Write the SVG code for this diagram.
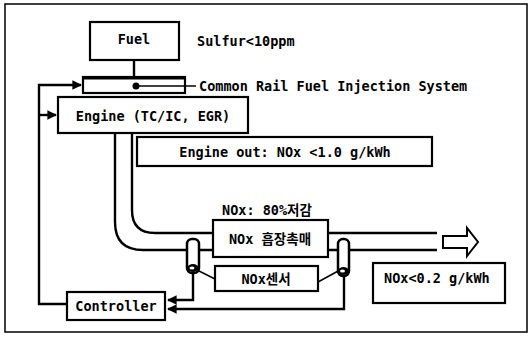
<svg xmlns="http://www.w3.org/2000/svg" width="530" height="340" viewBox="0 0 530 340">
<defs>
<style>
.box{fill:#fff;stroke:#000;stroke-width:2.2}
.ln{fill:none;stroke:#000;stroke-width:2.4}
.thin{fill:none;stroke:#000;stroke-width:1.5}
text{font-family:"DejaVu Sans Mono","Noto Sans CJK KR",monospace;font-size:13.5px;fill:#000;font-weight:bold}
.c{text-anchor:middle}
</style>
<marker id="ah" viewBox="0 0 10 10" refX="9" refY="5" markerWidth="4" markerHeight="4" orient="auto" markerUnits="strokeWidth">
<path d="M0,0 L10,5 L0,10 z" fill="#000"/>
</marker>
</defs>
<rect width="530" height="340" fill="#fff"/>
<rect x="5" y="4" width="522" height="328" fill="none" stroke="#000" stroke-width="1.5"/>

<g id="connectors">
<line class="ln" x1="134" y1="60" x2="134" y2="77"/>
<polyline class="ln" points="67,304 39,304 39,85 81,85" marker-end="url(#ah)"/>
<line class="ln" x1="39" y1="115" x2="56" y2="115" marker-end="url(#ah)"/>
<path class="ln" d="M132,133 V210 Q132,233 155,233 H213"/>
<path class="ln" d="M115,133 V222 Q115,250 143,250 H213"/>
<line class="ln" x1="328" y1="233" x2="437" y2="233"/>
<line class="ln" x1="328" y1="250" x2="437" y2="250"/>
<polyline class="ln" points="193,273 193,300 168,300" marker-end="url(#ah)"/>
<polyline class="ln" points="344,276 344,309 168,309" marker-end="url(#ah)"/>
<line class="thin" x1="197" y1="270" x2="215" y2="279"/>
<line class="thin" x1="340" y1="270" x2="318" y2="282"/>
<path d="M443,236 H467 V228 L478,242 L467,256 V248 H443 Z" fill="#fff" stroke="#000" stroke-width="2"/>
</g>

<g id="fuel">
<rect class="box" x="90" y="22" width="89" height="38"/>
<text class="c" x="134" y="44">Fuel</text>
</g>
<text x="197" y="46">Sulfur&lt;10ppm</text>

<g id="rail">
<rect class="box" x="83" y="77" width="102" height="16"/>
<line x1="83" y1="78" x2="185" y2="78" stroke="#000" stroke-width="3"/>
<line class="thin" x1="136" y1="86" x2="196" y2="86"/>
<circle cx="136" cy="86" r="3.5" fill="#000"/>
<text x="199" y="91">Common Rail Fuel Injection System</text>
</g>

<g id="engine">
<rect class="box" x="58" y="97" width="190" height="36"/>
<text class="c" x="153" y="121">Engine (TC/IC, EGR)</text>
</g>

<g id="engine-out">
<rect class="box" x="137" y="137" width="295" height="29"/>
<text class="c" x="285" y="157">Engine out: NOx &lt;1.0 g/kWh</text>
</g>

<text x="222" y="215">NOx: 80%저감</text>

<g id="catalyst">
<rect class="box" x="213" y="220" width="115" height="37"/>
<text class="c" x="270" y="244">NOx 흡장촉매</text>
</g>

<g id="sensor1">
<rect x="187" y="239" width="12" height="34" rx="5" fill="#fff" stroke="#000" stroke-width="2.5"/>
<ellipse cx="193" cy="268" rx="5.5" ry="4" fill="#000"/>
<ellipse cx="192" cy="268" rx="2.5" ry="1.6" fill="#fff"/>
</g>
<g id="sensor2">
<rect x="338" y="239" width="11" height="37" rx="5" fill="#fff" stroke="#000" stroke-width="2.5"/>
<ellipse cx="343.5" cy="271" rx="5.5" ry="4" fill="#000"/>
<ellipse cx="342.5" cy="271" rx="2.5" ry="1.6" fill="#fff"/>
</g>

<g id="nox-sensor">
<rect class="box" x="215" y="266" width="103" height="25"/>
<text class="c" x="266" y="284">NOx센서</text>
</g>

<g id="controller">
<rect class="box" x="67" y="292" width="98" height="28"/>
<text class="c" x="116" y="311">Controller</text>
</g>

<g id="outlet">
<rect class="box" x="373" y="263" width="132" height="40"/>
<text x="384" y="283">NOx&lt;0.2 g/kWh</text>
</g>
</svg>
